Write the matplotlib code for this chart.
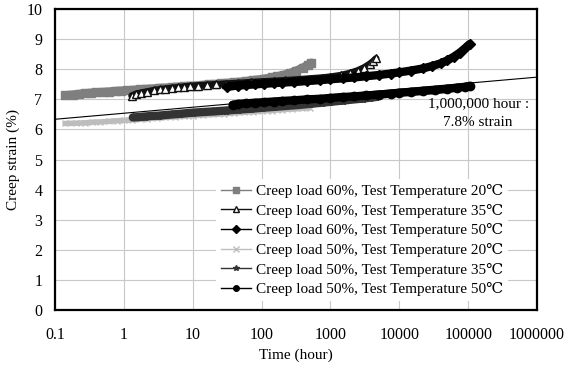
import matplotlib
matplotlib.use("Agg")
import matplotlib.pyplot as plt
from matplotlib.lines import Line2D

plt.rcParams['font.family'] = ['Liberation Serif', 'DejaVu Serif']

# Creep load 60%, 20C
t1 = [0.14, 0.18, 0.22, 0.27, 0.33, 0.4, 0.5, 0.6, 0.75, 0.9, 1.1, 1.4, 1.7, 2.1, 2.6, 3.2, 4, 5, 6,
      7.5, 9, 11, 14, 17, 21, 26, 32, 40, 50, 60, 75, 90, 110, 140, 170, 210, 260, 320, 400, 480, 530]
y1 = [7.14, 7.16, 7.18, 7.2, 7.22, 7.23, 7.25, 7.26, 7.28, 7.29, 7.3, 7.32, 7.33, 7.35, 7.36, 7.38, 7.39,
      7.41, 7.42, 7.44, 7.45, 7.46, 7.48, 7.5, 7.51, 7.53, 7.55, 7.57, 7.59, 7.61, 7.64, 7.66, 7.69, 7.73,
      7.77, 7.82, 7.88, 7.96, 8.06, 8.16, 8.22]
# Creep load 60%, 35C
t2 = [1.3, 1.5, 1.8, 2.2, 2.7, 3.3, 4, 5, 6.2, 7.5, 9, 12, 16, 22, 30, 45, 70, 100, 150, 220, 330, 500,
      750, 1000, 1400, 1900, 2500, 3100, 3700, 4200, 4600]
y2 = [7.12, 7.18, 7.22, 7.26, 7.3, 7.33, 7.35, 7.38, 7.4, 7.42, 7.44, 7.46, 7.48, 7.5, 7.52, 7.54, 7.57,
      7.59, 7.61, 7.63, 7.66, 7.69, 7.72, 7.75, 7.8, 7.87, 7.96, 8.06, 8.17, 8.27, 8.36]
# Creep load 60%, 50C
t3 = [32, 45, 60, 80, 110, 150, 200, 300, 450, 700, 1000, 1500, 2200, 3300, 5000, 7500, 10000, 15000,
      22000, 30000, 40000, 50000, 62000, 75000, 90000, 105000]
y3 = [7.42, 7.46, 7.48, 7.5, 7.52, 7.54, 7.56, 7.58, 7.61, 7.64, 7.67, 7.7, 7.73, 7.77, 7.81, 7.86, 7.9,
      7.96, 8.03, 8.11, 8.2, 8.3, 8.42, 8.55, 8.7, 8.84]
# Creep load 50%, 20C
t4 = [0.14, 0.2, 0.27, 0.35, 0.45, 0.6, 0.8, 1.0, 1.3, 1.7, 2.2, 3, 4, 5.5, 7.5, 10, 14, 20, 28, 40, 55,
      75, 100, 140, 200, 280, 380, 500]
y4 = [6.2, 6.21, 6.22, 6.24, 6.25, 6.27, 6.29, 6.3, 6.32, 6.34, 6.36, 6.38, 6.4, 6.42, 6.44, 6.46, 6.48,
      6.5, 6.52, 6.55, 6.57, 6.59, 6.61, 6.63, 6.66, 6.68, 6.7, 6.72]
# Creep load 50%, 35C
t5 = [1.35, 1.6, 2, 2.5, 3.2, 4, 5, 6.5, 8, 10, 14, 20, 30, 45, 70, 100, 150, 220, 330, 500, 750, 1000,
      1500, 2200, 3000, 3800, 4600]
y5 = [6.4, 6.41, 6.43, 6.45, 6.46, 6.48, 6.5, 6.52, 6.54, 6.56, 6.58, 6.6, 6.63, 6.66, 6.69, 6.72, 6.75,
      6.78, 6.81, 6.85, 6.89, 6.92, 6.96, 7.0, 7.03, 7.06, 7.08]
# Creep load 50%, 50C
t6 = [38, 45, 60, 80, 110, 150, 200, 300, 450, 700, 1000, 1500, 2200, 3300, 5000, 7500, 10000, 15000,
      22000, 33000, 50000, 70000, 90000, 105000]
y6 = [6.82, 6.85, 6.87, 6.89, 6.91, 6.93, 6.95, 6.97, 7.0, 7.02, 7.05, 7.08, 7.1, 7.13, 7.16, 7.19, 7.22,
      7.25, 7.28, 7.31, 7.35, 7.39, 7.42, 7.45]

# log trend line (extrapolated to 1,000,000 h)
trend_t = [0.1, 1e6]
trend_y = [6.34, 7.74]

labels = ['Creep load 60%, Test Temperature 20\u2103',
          'Creep load 60%, Test Temperature 35\u2103',
          'Creep load 60%, Test Temperature 50\u2103',
          'Creep load 50%, Test Temperature 20\u2103',
          'Creep load 50%, Test Temperature 35\u2103',
          'Creep load 50%, Test Temperature 50\u2103']
xticks = [0.1, 1, 10, 100, 1000, 10000, 100000, 1000000]
xticklabels = ['0.1', '1', '10', '100', '1000', '10000', '100000', '1000000']

fig = plt.figure(figsize=(5.71, 3.66), dpi=100)
ax = fig.add_axes([0.0963, 0.153, 0.8442, 0.822])

styles = [
    dict(color='#7f7f7f', marker='s', mfc='#7f7f7f', mec='#7f7f7f'),
    dict(color='#111111', marker='^', mfc='white', mec='#111111'),
    dict(color='#000000', marker='D', mfc='#000000', mec='#000000'),
    dict(color='#bdbdbd', marker='x', mfc='#bdbdbd', mec='#bdbdbd'),
    dict(color='#333333', marker='*', mfc='#333333', mec='#333333'),
    dict(color='#000000', marker='o', mfc='#000000', mec='#000000'),
]
sizes = [6, 6, 5, 5, 6, 6]
widths = [6, 5, 6, 4, 6, 6]
series = [(t1, y1), (t2, y2), (t3, y3), (t4, y4), (t5, y5), (t6, y6)]
for (t, y), st, w, m in zip(series, styles, widths, sizes):
    ax.plot(t, y, lw=w, ms=m, solid_capstyle='round', zorder=3, **st)

ax.plot(trend_t, trend_y, color='black', lw=0.8, zorder=4)

ax.set_xscale('log')
ax.set_xlim(0.1, 1e6)
ax.set_ylim(0, 10)
ax.set_xticks(xticks)
ax.set_xticklabels(xticklabels)
ax.xaxis.set_minor_locator(plt.NullLocator())
ax.set_yticks(range(0, 11))
ax.grid(True, color='#c8c8c8', lw=0.8, zorder=0)
ax.tick_params(axis='both', length=0, labelsize=11.5)
ax.tick_params(axis='x', pad=12)
ax.tick_params(axis='y', pad=9)
for s in ax.spines.values():
    s.set_linewidth(1.6)
    s.set_color('black')

ax.set_xlabel('Time (hour)', fontsize=11, labelpad=4)
ax.set_ylabel('Creep strain (%)', fontsize=11, labelpad=5)

ax.text(0.878, 0.654, '1,000,000 hour :\n7.8% strain', transform=ax.transAxes,
        ha='center', va='center', fontsize=11, linespacing=1.6, zorder=5)

handles = [Line2D([], [], lw=1, ms=4, **st) for st in styles]
leg = ax.legend(handles, labels, loc='lower right', bbox_to_anchor=(0.955, 0.005),
                fontsize=11, frameon=True, fancybox=False, framealpha=1,
                facecolor='white', edgecolor='none', handlelength=2.0,
                handletextpad=0.3, labelspacing=0.37, borderpad=0.3)
leg.set_zorder(6)

fig.savefig('out.png', dpi=100)
